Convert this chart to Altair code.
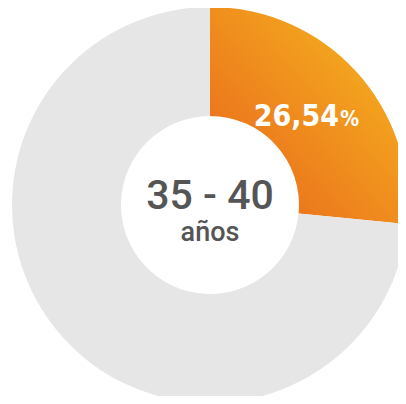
import altair as alt
import pandas as pd

categories = ["35 - 40", "Otros"]
values = [26.54, 73.46]
labels = ["26,54", ""]
pct = ["%", ""]
order = [0, 1]

df = pd.DataFrame({"cat": categories, "value": values, "label": labels, "pct": pct, "idx": order})

grad = {
    "gradient": "linear",
    "x1": 0, "y1": 1, "x2": 1, "y2": 0,
    "stops": [
        {"offset": 0, "color": "#E8621C"},
        {"offset": 1, "color": "#F7BB1F"},
    ],
}

CX, CY = 202, 197

base = alt.Chart(df).encode(
    theta=alt.Theta("value:Q", stack=True),
    order=alt.Order("idx:O"),
)

arc = base.mark_arc(outerRadius=198, innerRadius=89, x=CX, y=CY).encode(
    fill=alt.condition(alt.datum.cat == "35 - 40", alt.value(grad), alt.value("#E6E6E6"))
)

lbl = base.mark_text(
    radius=142, x=CX, y=CY, align="right", baseline="alphabetic", dx=24, dy=16,
    font="DejaVu Sans Condensed", fontSize=30, fontWeight="bold", color="white",
).encode(text="label:N")

lblp = base.mark_text(
    radius=142, x=CX, y=CY, align="left", baseline="alphabetic", dx=25, dy=16,
    font="DejaVu Sans Condensed", fontSize=21, fontWeight="bold", color="white",
).encode(text="pct:N")

center_df = pd.DataFrame({"t": ["35 - 40"]})
c1 = alt.Chart(center_df).mark_text(
    font="Roboto", fontSize=41, fontWeight=500, color="#555555",
    align="center", baseline="alphabetic",
).encode(x=alt.value(CX), y=alt.value(CY + 4), text="t:N")

c2_df = pd.DataFrame({"t": ["años"]})
c2 = alt.Chart(c2_df).mark_text(
    font="Roboto", fontSize=27, fontWeight=500, color="#555555",
    align="center", baseline="alphabetic",
).encode(x=alt.value(CX), y=alt.value(CY + 36), text="t:N")

chart = alt.layer(arc, lbl, lblp, c1, c2).properties(
    width=390, height=388, padding=0, autosize=alt.AutoSizeParams(type="none")
).configure_view(stroke=None)

chart.save("out.html", embed_options={"renderer": "svg", "actions": False})
